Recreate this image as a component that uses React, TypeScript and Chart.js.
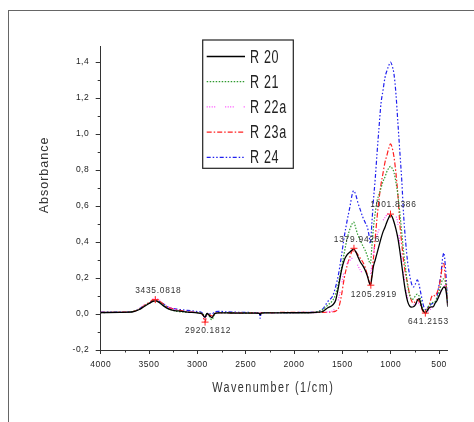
import React, { useEffect, useRef } from 'react';
import { Chart, registerables } from 'chart.js';

Chart.register(...registerables);

// ---------- DATA ----------
const wavenumbers = [
  4000, 3800, 3700, 3650, 3600, 3550, 3500, 3460, 3435, 3400, 3350, 3300, 3250, 3200, 3100, 3000,
  2950, 2920, 2900, 2880, 2850, 2820, 2780, 2700, 2600, 2500, 2400, 2360, 2350, 2340, 2300, 2200,
  2100, 2000, 1900, 1800, 1750, 1700, 1650, 1600, 1570, 1540, 1510, 1480, 1450, 1420, 1400, 1383,
  1360, 1340, 1315, 1290, 1265, 1240, 1225, 1210, 1195, 1180, 1160, 1140, 1120, 1100, 1080, 1060,
  1040, 1020, 1002, 985, 965, 945, 925, 905, 885, 865, 845, 825, 805, 785, 765, 745, 725, 705, 690,
  675, 660, 641, 620, 600, 580, 560, 540, 520, 500, 480, 465, 450, 435, 420, 410,
];

const r20 = [
  0.008, 0.009, 0.01, 0.015, 0.025, 0.042, 0.058, 0.07, 0.073, 0.066, 0.045, 0.028, 0.02, 0.017, 0.01, 0.006,
  0.0, -0.018, 0.004, -0.005, -0.02, 0.002, 0.006, 0.006, 0.005, 0.005, 0.005, 0.004, -0.004, 0.005, 0.006, 0.006,
  0.007, 0.007, 0.007, 0.008, 0.01, 0.015, 0.035, 0.05, 0.075, 0.15, 0.24, 0.3, 0.33, 0.345, 0.355, 0.36,
  0.345, 0.32, 0.29, 0.27, 0.245, 0.21, 0.18, 0.16, 0.2, 0.26, 0.3, 0.34, 0.38, 0.42, 0.455, 0.48,
  0.51, 0.535, 0.552, 0.54, 0.51, 0.47, 0.42, 0.35, 0.27, 0.19, 0.12, 0.07, 0.045, 0.038, 0.04, 0.05, 0.075, 0.085, 0.06,
  0.03, 0.015, 0.005, 0.02, 0.035, 0.04, 0.04, 0.06, 0.075, 0.1, 0.125, 0.14, 0.15, 0.145, 0.1, 0.04,
];

const r21 = [
  0.008, 0.009, 0.011, 0.016, 0.027, 0.045, 0.06, 0.072, 0.075, 0.068, 0.048, 0.03, 0.02, 0.014, 0.01, 0.008,
  0.003, -0.01, 0.002, -0.01, -0.032, 0.0, 0.008, 0.008, 0.007, 0.006, 0.006, 0.005, 0.0, 0.006, 0.007, 0.007,
  0.008, 0.008, 0.008, 0.009, 0.014, 0.025, 0.05, 0.075, 0.11, 0.17, 0.25, 0.34, 0.42, 0.475, 0.5, 0.51,
  0.475, 0.44, 0.41, 0.38, 0.355, 0.32, 0.295, 0.28, 0.37, 0.47, 0.56, 0.63, 0.665, 0.7, 0.735, 0.76,
  0.79, 0.81, 0.82, 0.81, 0.785, 0.73, 0.66, 0.56, 0.45, 0.34, 0.25, 0.16, 0.11, 0.08, 0.085, 0.1, 0.11, 0.1, 0.08,
  0.04, 0.02, 0.012, 0.03, 0.05, 0.06, 0.065, 0.07, 0.09, 0.12, 0.16, 0.19, 0.195, 0.18, 0.13, 0.06,
];

const r22a = [
  0.008, 0.009, 0.011, 0.017, 0.03, 0.05, 0.068, 0.083, 0.088, 0.08, 0.06, 0.04, 0.03, 0.022, 0.014, 0.009,
  0.002, -0.02, 0.003, -0.004, -0.012, 0.004, 0.008, 0.008, 0.007, 0.006, 0.006, 0.006, 0.002, 0.006, 0.006, 0.007,
  0.007, 0.008, 0.008, 0.008, 0.006, 0.008, 0.012, 0.018, 0.035, 0.08, 0.16, 0.24, 0.28, 0.3, 0.31, 0.315,
  0.3, 0.27, 0.245, 0.23, 0.235, 0.24, 0.235, 0.225, 0.27, 0.33, 0.39, 0.44, 0.47, 0.5, 0.52, 0.535,
  0.55, 0.56, 0.563, 0.563, 0.555, 0.545, 0.5, 0.39, 0.3, 0.22, 0.14, 0.09, 0.06, 0.05, 0.05, 0.055, 0.06, 0.06, 0.045,
  0.022, 0.012, 0.007, 0.015, 0.022, 0.03, 0.045, 0.06, 0.08, 0.1, 0.13, 0.16, 0.17, 0.15, 0.11, 0.05,
];

const r23a = [
  0.009, 0.01, 0.011, 0.016, 0.028, 0.047, 0.064, 0.077, 0.08, 0.074, 0.055, 0.036, 0.03, 0.022, 0.013, 0.008,
  0.0, -0.045, 0.0, -0.004, -0.01, 0.004, 0.007, 0.007, 0.006, 0.006, 0.006, 0.006, 0.003, 0.007, 0.007, 0.008,
  0.009, 0.009, 0.009, 0.009, 0.009, 0.009, 0.01, 0.012, 0.016, 0.032, 0.1, 0.2, 0.27, 0.32, 0.35, 0.365,
  0.345, 0.33, 0.31, 0.29, 0.26, 0.215, 0.185, 0.16, 0.22, 0.3, 0.42, 0.54, 0.64, 0.72, 0.78, 0.84,
  0.88, 0.92, 0.945, 0.925, 0.87, 0.78, 0.66, 0.5, 0.39, 0.29, 0.22, 0.17, 0.11, 0.075, 0.06, 0.07, 0.08, 0.07, 0.05,
  0.025, 0.01, 0.003, 0.02, 0.05, 0.09, 0.105, 0.1, 0.12, 0.15, 0.21, 0.27, 0.28, 0.2, 0.12, 0.05,
];

const r24 = [
  0.01, 0.01, 0.011, 0.016, 0.028, 0.046, 0.062, 0.074, 0.078, 0.072, 0.055, 0.038, 0.03, 0.026, 0.02, 0.014,
  0.006, -0.03, 0.004, 0.002, 0.0, 0.012, 0.015, 0.012, 0.01, 0.009, 0.008, 0.006, -0.025, 0.008, 0.008, 0.008,
  0.008, 0.008, 0.009, 0.01, 0.014, 0.03, 0.07, 0.1, 0.15, 0.22, 0.32, 0.43, 0.52, 0.6, 0.66, 0.685,
  0.66, 0.62, 0.58, 0.54, 0.51, 0.48, 0.44, 0.39, 0.5, 0.62, 0.75, 0.9, 1.04, 1.17, 1.24, 1.31,
  1.35, 1.38, 1.4, 1.38, 1.33, 1.22, 1.06, 0.9, 0.74, 0.54, 0.4, 0.29, 0.22, 0.17, 0.15, 0.165, 0.19, 0.16, 0.12,
  0.08, 0.045, 0.025, 0.035, 0.045, 0.055, 0.06, 0.065, 0.1, 0.16, 0.22, 0.3, 0.34, 0.27, 0.15, 0.06,
];

const seriesNames = ['R 20', 'R 21', 'R 22a', 'R 23a', 'R 24'];
const seriesValues = [r20, r21, r22a, r23a, r24];

const xTicks = [4000, 3500, 3000, 2500, 2000, 1500, 1000, 500];
const xMinorTicks = [3750, 3250, 2750, 2250, 1750, 1250, 750];
const yTicks = [-0.2, 0, 0.2, 0.4, 0.6, 0.8, 1.0, 1.2, 1.4];
const yMinorTicks = [-0.1, 0.1, 0.3, 0.5, 0.7, 0.9, 1.1, 1.3];

const peakWavenumbers = [3435.0818, 2920.1812, 1379.9426, 1205.2919, 1001.8386, 641.2153];
const peakValues = [0.08, -0.045, 0.365, 0.16, 0.555, 0.005];
const peakLabels = ['3435.0818', '2920.1812', '1379.9426', '1205.2919', '1001.8386', '641.2153'];
const peakLabelAbove = [true, false, true, false, true, false];

const xTitle = 'Wavenumber (1/cm)';
const yTitle = 'Absorbance';

// ---------- STYLE ----------
const FONT = '"Liberation Sans", Arial, sans-serif';
const COLORS = ['#000000', '#2f9a2f', '#ff3cff', '#ff2020', '#2020ee'];
const DASHES = [[], [1.5, 1.5], [1, 1.5, 1, 1.5, 1, 1.5, 1, 10], [5, 2, 1.5, 2], [4, 2, 1.5, 2, 1.5, 2]];
const WIDTHS = [1.3, 1.2, 1.2, 1.2, 1.2];

const decorPlugin = {
  id: 'decor',
  beforeDraw(chart: any) {
    (chart.ctx as any).letterSpacing = '0.5px';
  },
  afterDraw(chart: any) {
    const ctx = chart.ctx as any;
    const xs = chart.scales.x;
    const ys = chart.scales.y;
    ctx.save();
    // minor ticks
    ctx.strokeStyle = '#333';
    ctx.lineWidth = 1;
    ctx.setLineDash([]);
    xMinorTicks.forEach((v) => {
      const px = Math.round(xs.getPixelForValue(v)) + 0.5;
      ctx.beginPath();
      ctx.moveTo(px, xs.top);
      ctx.lineTo(px, xs.top + 2.5);
      ctx.stroke();
    });
    yMinorTicks.forEach((v) => {
      const py = Math.round(ys.getPixelForValue(v)) + 0.5;
      ctx.beginPath();
      ctx.moveTo(ys.right - 3, py);
      ctx.lineTo(ys.right, py);
      ctx.stroke();
    });

    // peak labels
    ctx.fillStyle = '#333';
    ctx.font = `8.4px ${FONT}`;
    ctx.letterSpacing = '0.75px';
    ctx.textAlign = 'center';
    ctx.textBaseline = 'middle';
    peakLabels.forEach((lab, i) => {
      const px = xs.getPixelForValue(peakWavenumbers[i]);
      const py = ys.getPixelForValue(peakValues[i]);
      ctx.fillText(lab, px + 3, py + (peakLabelAbove[i] ? -9 : 9));
    });

    // axis titles
    ctx.fillStyle = '#333';
    ctx.textAlign = 'center';
    ctx.textBaseline = 'alphabetic';
    ctx.font = `15px ${FONT}`;
    ctx.letterSpacing = '2px';
    let w = ctx.measureText(xTitle).width;
    ctx.save();
    ctx.translate((chart.chartArea.left + chart.chartArea.right) / 2 - 1, 380.7);
    ctx.scale(122 / w, 1);
    ctx.fillText(xTitle, 0, 0);
    ctx.restore();

    ctx.font = `12.5px ${FONT}`;
    ctx.letterSpacing = '1px';
    w = ctx.measureText(yTitle).width;
    ctx.save();
    ctx.translate(39.3, 164);
    ctx.rotate(-Math.PI / 2);
    ctx.scale(76.7 / w, 1);
    ctx.fillText(yTitle, 0, 0);
    ctx.restore();

    // legend
    const bx = 193.7, by = 29, bw = 90.6, bh = 128.3;
    ctx.strokeStyle = '#222';
    ctx.lineWidth = 1.2;
    ctx.strokeRect(bx, by, bw, bh);
    ctx.font = `18px ${FONT}`;
    ctx.letterSpacing = '1px';
    ctx.textAlign = 'left';
    const sx = 29.3 / ctx.measureText(seriesNames[0]).width;
    seriesNames.forEach((name, i) => {
      const y = 45 + i * 25.2;
      ctx.strokeStyle = COLORS[i];
      ctx.lineWidth = WIDTHS[i];
      ctx.setLineDash(DASHES[i]);
      ctx.beginPath();
      ctx.moveTo(197.7, y + 0.5);
      ctx.lineTo(236, y + 0.5);
      ctx.stroke();
      ctx.setLineDash([]);
      ctx.fillStyle = '#222';
      ctx.save();
      ctx.translate(241, y + 6.6);
      ctx.scale(sx, 1);
      ctx.fillText(name, 0, 0);
      ctx.restore();
    });
    ctx.restore();
  },
};

export default function App() {
  const ref = useRef<HTMLCanvasElement | null>(null);

  useEffect(() => {
    if (!ref.current) return;
    const datasets: any[] = [
      {
        type: 'scatter',
        label: 'peaks',
        data: peakWavenumbers.map((x, i) => ({ x, y: peakValues[i] })),
        pointStyle: 'cross',
        pointRadius: 3.5,
        pointBorderColor: '#ff2020',
        borderColor: '#ff2020',
        pointBorderWidth: 1,
        showLine: false,
        order: 0,
      },
      ...seriesNames.map((name, s) => ({
        type: 'line',
        label: name,
        data: wavenumbers.map((x, i) => ({ x, y: seriesValues[s][i] })),
        borderColor: COLORS[s],
        borderWidth: WIDTHS[s],
        borderDash: DASHES[s],
        pointRadius: 0,
        fill: false,
        cubicInterpolationMode: 'monotone',
        order: s + 1,
      })),
    ];

    const tickFont = { family: FONT, size: 8.5 };
    const chart = new Chart(ref.current, {
      type: 'line',
      data: { datasets },
      options: {
        responsive: false,
        animation: false,
        layout: { padding: { left: 0, top: 35.7, right: 26.3, bottom: 0 } },
        plugins: { legend: { display: false }, tooltip: { enabled: false } },
        scales: {
          x: {
            type: 'linear',
            reverse: true,
            min: 410,
            max: 4000,
            afterBuildTicks: (s: any) => {
              s.ticks = xTicks.map((v) => ({ value: v }));
            },
            afterFit: (s: any) => {
              s.height = 72;
            },
            grid: { drawOnChartArea: false, drawTicks: true, tickLength: 4, color: '#333' },
            border: { display: true, color: '#333', width: 1 },
            ticks: {
              font: tickFont,
              color: '#222',
              padding: 6,
              maxRotation: 0,
              autoSkip: false,
              callback: (v: any) => String(v),
            },
          },
          y: {
            type: 'linear',
            min: -0.2,
            max: 1.485,
            afterBuildTicks: (s: any) => {
              s.ticks = yTicks.map((v) => ({ value: v }));
            },
            afterFit: (s: any) => {
              s.width = 91.7;
            },
            grid: { drawOnChartArea: false, drawTicks: true, tickLength: 5, color: '#333' },
            border: { display: true, color: '#333', width: 1 },
            ticks: {
              font: tickFont,
              color: '#222',
              padding: 6.5,
              autoSkip: false,
              callback: (v: any) => Number(v).toFixed(1).replace('.', ','),
            },
          },
        },
      } as any,
      plugins: [decorPlugin],
    } as any);
    return () => chart.destroy();
  }, []);

  return (
    <div
      style={{
        position: 'fixed',
        left: 8,
        top: 10,
        width: 465,
        height: 411,
        borderLeft: '1px solid #666',
        borderTop: '1px solid #666',
      }}
    >
      <canvas ref={ref} width={465} height={411} style={{ display: 'block' }} />
    </div>
  );
}
